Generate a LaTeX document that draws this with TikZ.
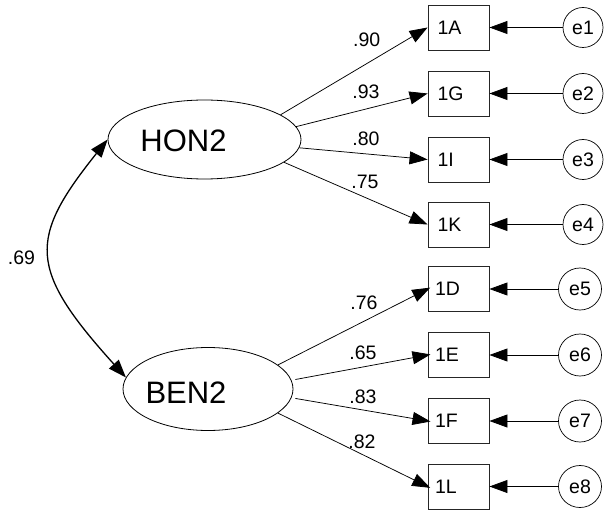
\documentclass[tikz,border=0pt]{standalone}
\usepackage{fontspec}
\setmainfont{Liberation Sans}
\usetikzlibrary{arrows.meta,shapes.geometric}
\begin{document}
\begin{tikzpicture}[x=1pt,y=-1pt,
  every node/.style={font=\fontsize{19.5}{22}\selectfont},
  obs/.style={draw=black!85, line width=0.9pt, minimum height=45pt, align=left, text width=42pt, inner xsep=9.5pt, inner ysep=0pt},
  obsb/.style={obs, text width=47pt, inner xsep=7pt},
  err/.style={draw, ellipse, line width=0.7pt, minimum width=40pt, minimum height=40pt, inner sep=0pt},
  errb/.style={err, minimum width=43pt, minimum height=42pt},
  lat/.style={draw, ellipse, line width=0.8pt, inner sep=0pt},
  tipA/.tip={Triangle[length=18pt,width=13pt]},
  ld/.style={-tipA, line width=0.75pt},
  lbl/.style={inner sep=0pt}
]
\useasboundingbox (0,0) rectangle (604,510);

% latent variables
\node[lat, minimum width=193pt, minimum height=79pt,
      label={[font=\fontsize{31}{34}\selectfont, xshift=-21pt, yshift=-1pt]center:HON2}] (HON2) at (204.5,139.5) {};
\node[lat, minimum width=170pt, minimum height=83pt,
      label={[font=\fontsize{31}{34}\selectfont, xshift=-22pt, yshift=-4pt]center:BEN2}] (BEN2) at (208,389) {};

% observed variables
\node[obs] (A) at (458.5,27.5) {1A};
\node[obs] (G) at (458.5,93.5) {1G};
\node[obs] (I) at (458.5,159.5) {1I};
\node[obs] (K) at (458.5,224.5) {1K};
\node[obsb] (D) at (458.5,289) {1D};
\node[obsb] (E) at (458.5,355) {1E};
\node[obsb] (F) at (458.5,421) {1F};
\node[obsb] (L) at (458.5,486.5) {1L};

% error terms
\node[err] (e1) at (583,27.5) {e1};
\node[err] (e2) at (583,93.5) {e2};
\node[err] (e3) at (583,159.5) {e3};
\node[err] (e4) at (583,224.5) {e4};
\node[errb] (e5) at (580,289) {e5};
\node[errb] (e6) at (580,355) {e6};
\node[errb] (e7) at (580,421) {e7};
\node[errb] (e8) at (580,486.5) {e8};

% loadings
\draw[ld] (HON2.18) -- (A.west);
\draw[ld] (HON2.8) -- (G.west);
\draw[ld] (HON2.-5) -- (I.west);
\draw[ld] (HON2.-16) -- (K.west);
\draw[ld, shorten >=-3pt] (BEN2.19) -- (D.west);
\draw[ld, shorten >=-3pt, shorten <=4pt] (BEN2.6) -- (E.west);
\draw[ld, shorten >=-3pt, shorten <=4pt] (BEN2.-6) -- (F.west);
\draw[ld, shorten >=-3pt] (BEN2.-19) -- (L.west);

% error arrows
\foreach \e/\b in {e1/A,e2/G,e3/I,e4/K,e5/D,e6/E,e7/F,e8/L}
  \draw[ld] (\e) -- (\b);

% correlation
\draw[tipA-tipA, line width=1.3pt]
  (HON2.west) .. controls (28,239) and (28,269) .. (BEN2.172);

% labels
\node[lbl] (l1) at (366.7,40) {.90};
\node[lbl] (l2) at (366,91.7) {.93};
\node[lbl] (l3) at (366,139) {.80};
\node[lbl] (l4) at (365,182) {.75};
\node[lbl] (l5) at (364,303) {.76};
\node[lbl] (l6) at (363,353) {.65};
\node[lbl] (l7) at (363,397) {.83};
\node[lbl] (l8) at (362,442) {.82};
\node[lbl] (l9) at (21.5,258) {.69};
\end{tikzpicture}
\end{document}
